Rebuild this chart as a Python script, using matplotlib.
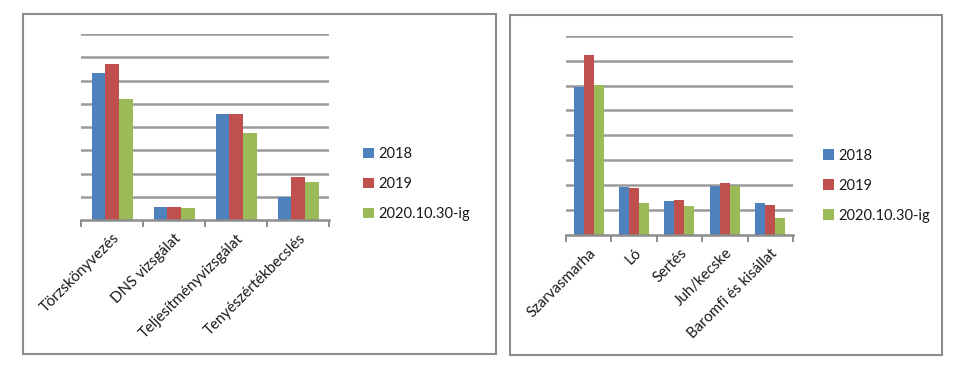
import matplotlib.pyplot as plt
import matplotlib.patches as mpatches
import numpy as np

plt.rcParams['font.family'] = ['Lato', 'DejaVu Sans']

series = ['2018', '2019', '2020.10.30-ig']
colors = ['#4F81BD', '#C0504D', '#9BBB59']

# left chart (values in gridline units, no axis labels in the original)
left_cats = ['Törzskönyvezés', 'DNS vizsgálat', 'Teljesítményvizsgálat', 'Tenyészértékbecslés']
left_2018 = [6.33, 0.57, 4.56, 0.99]
left_2019 = [6.70, 0.57, 4.56, 1.84]
left_2020 = [5.20, 0.50, 3.76, 1.64]

# right chart
right_cats = ['Szarvasmarha', 'Ló', 'Sertés', 'Juh/kecske', 'Baromfi és kisállat']
right_2018 = [5.96, 1.91, 1.35, 1.97, 1.28]
right_2019 = [7.23, 1.87, 1.39, 2.07, 1.20]
right_2020 = [6.02, 1.28, 1.16, 1.98, 0.68]

fig = plt.figure(figsize=(9.67, 3.68), dpi=100)

# outer frames
for x0, y0, w, h in [(0.0238, 0.038, 0.489, 0.924), (0.527, 0.035, 0.447, 0.924)]:
    fig.patches.append(mpatches.Rectangle((x0, y0), w, h, transform=fig.transFigure,
                                          fill=False, edgecolor='#8c8c8c', linewidth=1.5))


def draw(ax, cats, vals, leg_anchor):
    n = len(cats)
    x = np.arange(n)
    bw = 0.22
    for i, (v, c, lab) in enumerate(zip(vals, colors, series)):
        ax.bar(x + (i - 1) * bw, v, bw, color=c, label=lab, zorder=3)
    ax.set_xlim(-0.5, n - 0.5)
    ax.set_ylim(0, 8)
    ax.set_yticks(np.arange(1, 9))
    ax.yaxis.grid(True, color='#9a9a9a', linewidth=1.8, zorder=0)
    ax.tick_params(axis='y', left=False, labelleft=False)
    for s in ['top', 'right', 'left']:
        ax.spines[s].set_visible(False)
    ax.spines['bottom'].set_color('#8c8c8c')
    ax.spines['bottom'].set_linewidth(1.8)
    ax.spines['bottom'].set_zorder(4)
    ax.set_xticks(x)
    ax.set_xticklabels(cats, rotation=45, ha='right', rotation_mode='anchor',
                       fontsize=10.8, color='#1a1a1a')
    ax.tick_params(axis='x', which='major', length=0, pad=8)
    ax.set_xticks(np.arange(n + 1) - 0.5, minor=True)
    ax.tick_params(axis='x', which='minor', length=5, width=1.4, color='#8c8c8c', direction='out')
    leg = ax.legend(loc='center left', bbox_to_anchor=leg_anchor, bbox_transform=fig.transFigure,
                    frameon=False, fontsize=10.5, handlelength=0.75, handleheight=0.75,
                    handletextpad=0.3, labelspacing=1.1)
    for t in leg.get_texts():
        t.set_color('#1a1a1a')


ax1 = fig.add_axes([0.0838, 0.402, 0.2565, 0.5054])
draw(ax1, left_cats, [left_2018, left_2019, left_2020], (0.362, 0.50))

ax2 = fig.add_axes([0.5853, 0.3614, 0.2347, 0.5416])
draw(ax2, right_cats, [right_2018, right_2019, right_2020], (0.838, 0.495))

fig.savefig('out.png', dpi=100)
